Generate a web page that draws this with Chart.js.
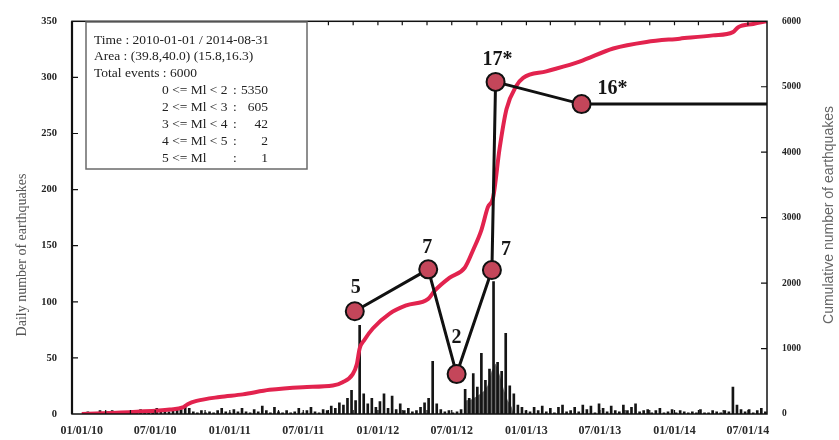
<!DOCTYPE html>
<html>
<head>
<meta charset="utf-8">
<title>Daily and cumulative number of earthquakes</title>
<script src="https://cdn.jsdelivr.net/npm/chart.js@4.4.1/dist/chart.umd.min.js"></script>
<style>
  html, body { margin: 0; padding: 0; background: #fff; }
  #wrap { width: 839px; height: 440px; }
</style>
</head>
<body>
<div id="wrap"><canvas id="quakeChart" width="839" height="440"></canvas></div>
<script>
// --- data (days counted from 2010-01-01) ---
const xTickDates = ['2010-01-01', '2010-07-01', '2011-01-01', '2011-07-01', '2012-01-01',
  '2012-07-01', '2013-01-01', '2013-07-01', '2014-01-01', '2014-07-01'];
const xTickLabels = ['01/01/10', '07/01/10', '01/01/11', '07/01/11', '01/01/12',
  '07/01/12', '01/01/13', '07/01/13', '01/01/14', '07/01/14'];

// daily counts, peak per 10-day bin
const dailyCounts = [
  1, 2, 1, 1, 3, 1, 2, 3, 1, 2,
  2, 1, 3, 2, 4, 2, 1, 3, 5, 2,
  4, 2, 3, 6, 4, 8, 5, 2, 1, 3,
  1, 2, 1, 3, 5, 2, 1, 4, 2, 5,
  2, 1, 4, 2, 7, 3, 1, 6, 2, 1,
  3, 1, 2, 5, 1, 3, 6, 2, 1, 4,
  3, 7, 5, 10, 8, 14, 21, 12, 79, 18,
  9, 14, 6, 11, 18, 5, 16, 4, 9, 3,
  5, 2, 3, 6, 10, 14, 47, 9, 4, 2,
  3, 1, 2, 4, 22, 14, 36, 24, 54, 30,
  40, 118, 46, 38, 72, 25, 18, 8, 6, 3,
  2, 6, 3, 7, 2, 5, 1, 6, 8, 2,
  3, 6, 2, 8, 4, 7, 1, 9, 5, 2,
  7, 3, 2, 8, 3, 6, 9, 2, 3, 4,
  1, 3, 5, 1, 2, 4, 1, 3, 2, 1,
  2, 1, 4, 1, 1, 3, 2, 1, 3, 2,
  24, 8, 4, 2, 4, 1, 3, 5, 2, 1
];
const binDays = 10;

// dense swarm period (grey filled background)
const swarmDays = [944, 946, 960, 975, 990, 1000, 1010, 1020, 1030, 1040, 1050, 1060, 1064];
const swarmCounts = [0, 12, 13, 16, 20, 25, 38, 45, 35, 22, 12, 6, 0];

// cumulative number of earthquakes (right axis)
const cumDays = [0, 52, 136, 217, 249, 261, 283, 340, 397, 463, 545, 619, 643, 668, 678, 685,
  697, 718, 759, 800, 854, 870, 907, 944, 965, 985, 1001, 1014, 1030, 1047, 1071, 1088,
  1145, 1227, 1310, 1392, 1474, 1556, 1605, 1618, 1655, 1689];
const cumCounts = [0, 10, 35, 70, 100, 150, 200, 260, 300, 370, 410, 435, 485, 610, 760, 1000,
  1135, 1310, 1535, 1660, 1760, 1885, 2085, 2235, 2510, 2810, 3160, 3310, 4060, 4660, 5010, 5135,
  5235, 5385, 5585, 5685, 5735, 5785, 5835, 5910, 5960, 6000];

// sequence of marked events (left axis)
const seqDays = [673, 854, 924, 1011, 1020, 1232, 1689];
const seqValues = [91.6, 128.9, 35.6, 128.3, 296, 276.2, 276.2];
const seqLabels = ['5', '7', '2', '7', '17*', '16*', ''];

const legendLines = [
  'Time : 2010-01-01 / 2014-08-31',
  'Area : (39.8,40.0) (15.8,16.3)',
  'Total events : 6000'
];
const magClasses = ['0 <= Ml < 2', '2 <= Ml < 3', '3 <= Ml < 4', '4 <= Ml < 5', '5 <= Ml'];
const magCounts = ['5350', '605', '42', '2', '1'];

// --- helpers ---
const START = Date.UTC(2010, 0, 1);
function dayOf(s) {
  return (Date.parse(s + 'T00:00:00Z') - START) / 86400000;
}

const SERIF = '"Liberation Serif", "DejaVu Serif", serif';

/**
 * Frame, inward ticks, titles, info box and event labels
 */
const decorPlugin = {
  id: 'decor',
  afterDatasetsDraw(chart) {
    const ctx = chart.ctx;
    const a = chart.chartArea;
    const xs = chart.scales.x;
    const yl = chart.scales.y;
    const yr = chart.scales.y1;
    ctx.save();

    // frame
    ctx.strokeStyle = '#111';
    ctx.lineWidth = 1.5;
    ctx.strokeRect(a.left, a.top, a.right - a.left, a.bottom - a.top);
    ctx.lineWidth = 2.2;
    ctx.beginPath();
    ctx.moveTo(a.left, a.top);
    ctx.lineTo(a.left, a.bottom);
    ctx.stroke();

    // inward ticks
    ctx.lineWidth = 1.2;
    ctx.beginPath();
    for (let v = 50; v < 350; v += 50) {
      const y = yl.getPixelForValue(v);
      ctx.moveTo(a.left, y); ctx.lineTo(a.left + 6, y);
    }
    for (let v = 1000; v < 6000; v += 1000) {
      const y = yr.getPixelForValue(v);
      ctx.moveTo(a.right, y); ctx.lineTo(a.right - 6, y);
    }
    for (let m = 2; m < 56; m += 2) {
      const d = (Date.UTC(2010, m, 1) - START) / 86400000;
      const x = xs.getPixelForValue(d);
      if (x <= a.left || x >= a.right) continue;
      ctx.moveTo(x, a.top); ctx.lineTo(x, a.top + 4);
      ctx.moveTo(x, a.bottom); ctx.lineTo(x, a.bottom - 4);
    }
    ctx.stroke();

    // axis titles
    ctx.fillStyle = '#555';
    ctx.textAlign = 'center';
    ctx.textBaseline = 'middle';
    ctx.font = '14px ' + SERIF;
    ctx.save();
    ctx.translate(22, 255);
    ctx.rotate(-Math.PI / 2);
    ctx.fillText('Daily number of earthquakes', 0, 0);
    ctx.restore();
    ctx.font = '14px "Liberation Sans", Arial, sans-serif';
    ctx.fillStyle = '#666';
    ctx.save();
    ctx.translate(829, 215);
    ctx.rotate(-Math.PI / 2);
    ctx.fillText('Cumulative number of earthquakes', 0, 0);
    ctx.restore();

    // info box
    ctx.fillStyle = '#fff';
    ctx.fillRect(86, 22, 221, 147);
    ctx.strokeStyle = '#6a6a6a';
    ctx.lineWidth = 1.5;
    ctx.strokeRect(86, 22, 221, 147);
    ctx.fillStyle = '#222';
    ctx.font = '13.5px ' + SERIF;
    ctx.textAlign = 'left';
    legendLines.forEach((t, i) => ctx.fillText(t, 94, 40 + i * 16.7));
    magClasses.forEach((t, i) => {
      const y = 90 + i * 17;
      ctx.textAlign = 'left';
      ctx.fillText(t, 162, y);
      ctx.fillText(':', 233, y);
      ctx.textAlign = 'right';
      ctx.fillText(magCounts[i], 268, y);
    });

    // event labels
    const offsets = [[1, -23], [-1, -22], [0, -36], [14, -20], [2, -22], [31, -15], [0, 0]];
    const meta = chart.getDatasetMeta(3);
    ctx.fillStyle = '#161616';
    ctx.font = 'bold 20px ' + SERIF;
    ctx.textAlign = 'center';
    ctx.textBaseline = 'middle';
    meta.data.forEach((pt, i) => {
      if (!seqLabels[i]) return;
      ctx.fillText(seqLabels[i], pt.x + offsets[i][0], pt.y + offsets[i][1]);
    });
    ctx.restore();
  }
};

function initQuakeChart() {
  const canvas = document.getElementById('quakeChart');
  if (!canvas) return;

  const tickFont = { family: SERIF, size: 12, weight: 'bold' };

  new Chart(canvas, {
    type: 'bar',
    data: {
      datasets: [
        {
          type: 'bar',
          label: 'Daily number',
          data: dailyCounts.map((v, i) => ({ x: i * binDays + binDays / 2, y: v })),
          backgroundColor: '#151515',
          barThickness: 2,
          yAxisID: 'y',
          order: 4
        },
        {
          type: 'line',
          label: 'Swarm',
          data: swarmDays.map((d, i) => ({ x: d, y: swarmCounts[i] })),
          backgroundColor: '#707070',
          borderWidth: 0,
          pointRadius: 0,
          fill: 'origin',
          tension: 0,
          yAxisID: 'y',
          order: 5
        },
        {
          type: 'line',
          label: 'Cumulative',
          data: cumDays.map((d, i) => ({ x: d, y: cumCounts[i] })),
          borderColor: '#e2234e',
          borderWidth: 4,
          pointRadius: 0,
          cubicInterpolationMode: 'monotone',
          fill: false,
          yAxisID: 'y1',
          order: 2
        },
        {
          type: 'line',
          label: 'Events',
          data: seqDays.map((d, i) => ({ x: d, y: seqValues[i] })),
          borderColor: '#111',
          borderWidth: 3,
          tension: 0,
          fill: false,
          pointRadius: seqLabels.map(l => (l ? 9 : 0)),
          pointBackgroundColor: '#c4465a',
          pointBorderColor: '#111',
          pointBorderWidth: 2,
          yAxisID: 'y',
          order: 1
        }
      ]
    },
    options: {
      responsive: false,
      animation: false,
      events: [],
      layout: { padding: { top: 14, left: 0, right: 0, bottom: 0 } },
      plugins: {
        legend: { display: false },
        tooltip: { enabled: false },
        title: { display: false }
      },
      scales: {
        x: {
          type: 'linear',
          min: -24,
          max: 1689,
          offset: false,
          grid: { display: false, drawTicks: false },
          border: { display: false },
          afterBuildTicks: function(scale) {
            scale.ticks = xTickDates.map(d => ({ value: dayOf(d) }));
          },
          afterFit: function(scale) { scale.height = 26; },
          ticks: {
            autoSkip: false,
            maxRotation: 0,
            padding: 10,
            color: '#2a2a2a',
            font: tickFont,
            callback: function(value) {
              const i = xTickDates.findIndex(d => dayOf(d) === value);
              return i >= 0 ? xTickLabels[i] : '';
            }
          }
        },
        y: {
          position: 'left',
          min: 0,
          max: 350,
          grid: { display: false, drawTicks: false },
          border: { display: false },
          afterFit: function(scale) { scale.width = 72; },
          ticks: {
            stepSize: 50,
            padding: 15,
            color: '#222',
            font: { family: SERIF, size: 10.5, weight: 'bold' },
            callback: v => String(v)
          }
        },
        y1: {
          position: 'right',
          min: 0,
          max: 6000,
          grid: { display: false, drawTicks: false },
          border: { display: false },
          afterFit: function(scale) { scale.width = 72; },
          ticks: {
            stepSize: 1000,
            padding: 15,
            color: '#222',
            font: { family: SERIF, size: 9.5, weight: 'bold' },
            callback: v => String(v)
          }
        }
      }
    },
    plugins: [decorPlugin]
  });
}

document.addEventListener('DOMContentLoaded', function() {
  initQuakeChart();
});
</script>
</body>
</html>
